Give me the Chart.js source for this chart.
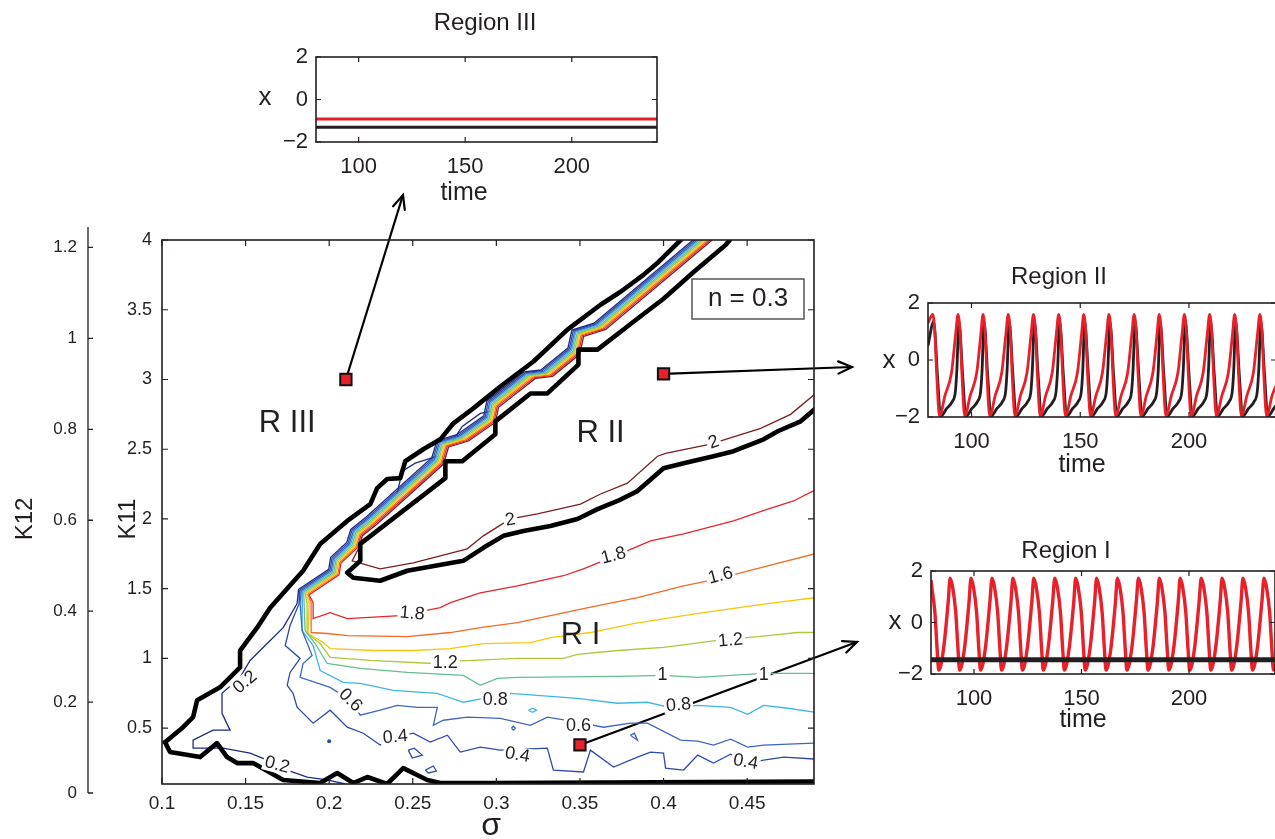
<!DOCTYPE html>
<html><head><meta charset="utf-8">
<script src="https://cdn.jsdelivr.net/npm/chart.js@4.4.1/dist/chart.umd.min.js"></script>
<style>
html,body{margin:0;padding:0;background:#fff;overflow:hidden;width:1275px;height:839px;position:relative;}
canvas{position:absolute;}
</style></head><body>
<canvas id="k12"></canvas>
<canvas id="main"></canvas>
<canvas id="r3"></canvas>
<canvas id="r2"></canvas>
<canvas id="r1"></canvas>
<script>
// ---------------- DATA ----------------
// main map: sigma (x), K11 (y)
const contourLevels = [0.2,0.4,0.6,0.8,1.0,1.2,1.4,1.6,1.8,2.0];
const contourColors = ['#1d2b85','#2d4aa8','#3d66c2','#3db5e6','#64be8e','#abc93b','#f8c50c','#f26a23','#e6262a','#7c1d1f'];
// shared path of the narrow rainbow band (sigma, K11) and each level's shift inside it
const bandPath = [[0.4269,4.029],[0.3623,3.379],[0.3491,3.329],[0.3467,3.2],[0.3305,3.043],[0.3204,3.029],[0.2982,2.821],[0.2964,2.714],[0.2802,2.579],[0.2683,2.536],[0.2653,2.414],[0.2257,1.986],[0.2168,1.9],[0.2144,1.807],[0.2048,1.7],[0.2036,1.614],[0.1856,1.471]];
const bandShiftSigma = [-0.0039,-0.0031,-0.0023,-0.0016,-0.0008,0,0.0008,0.0016,0.0023,0.0031];
const bandShiftK = [0.025,0.02,0.015,0.01,0.005,0,-0.005,-0.01,-0.015,-0.02];
// each level after leaving the band
const fan02 = [[0.1808,1.393],[0.1725,1.221],[0.1629,1.107],[0.1527,0.986],[0.1467,0.864],[0.1359,0.75],[0.1359,0.607],[0.1407,0.486],[0.1305,0.486],[0.1186,0.414],[0.1186,0.357],[0.1365,0.357],[0.1527,0.321],[0.1629,0.271],[0.1749,0.2],[0.1868,0.15],[0.1988,0.129],[0.2096,0.1]];
const fan04 = [[0.182,1.393],[0.1766,1.236],[0.1737,1.093],[0.1826,1.0],[0.1766,0.9],[0.1749,0.807],[0.1784,0.75],[0.1808,0.65],[0.1904,0.536],[0.2006,0.629],[0.2108,0.507],[0.2204,0.464],[0.2305,0.379],[0.2395,0.436],[0.2503,0.464],[0.2605,0.4],[0.2707,0.45],[0.2784,0.329],[0.2904,0.364],[0.3024,0.343],[0.3305,0.357],[0.3341,0.2],[0.3521,0.186],[0.3563,0.343],[0.3701,0.221],[0.3844,0.293],[0.3922,0.329],[0.4,0.321],[0.4012,0.214],[0.412,0.2],[0.4204,0.307],[0.4299,0.25],[0.4401,0.314],[0.4503,0.25],[0.4599,0.271],[0.4719,0.293],[0.4904,0.279]];
const fan06 = [[0.1826,1.393],[0.1838,1.2],[0.1898,1.021],[0.1844,0.964],[0.1826,0.864],[0.2006,0.793],[0.2126,0.7],[0.2186,0.593],[0.2305,0.629],[0.2407,0.664],[0.2527,0.65],[0.2647,0.65],[0.2623,0.521],[0.2683,0.557],[0.2826,0.579],[0.3024,0.571],[0.3204,0.521],[0.3305,0.579],[0.3485,0.543],[0.3641,0.507],[0.3802,0.536],[0.3904,0.536],[0.4102,0.414],[0.4204,0.407],[0.4299,0.379],[0.4401,0.421],[0.4503,0.364],[0.4599,0.379],[0.4904,0.393]];
const fan08 = [[0.1838,1.393],[0.1838,1.2],[0.1904,1.093],[0.1946,0.914],[0.2084,0.829],[0.2186,0.821],[0.2383,0.771],[0.2647,0.75],[0.2802,0.686],[0.2922,0.714],[0.3084,0.75],[0.3485,0.714],[0.3725,0.679],[0.3904,0.686],[0.406,0.643],[0.4204,0.664],[0.4401,0.65],[0.4503,0.6],[0.4599,0.664],[0.4743,0.643],[0.4904,0.614]];
const fan10 = [[0.185,1.393],[0.1856,1.2],[0.1916,1.107],[0.1988,0.964],[0.2186,0.929],[0.2467,0.9],[0.2802,0.879],[0.2904,0.807],[0.3006,0.857],[0.3126,0.864],[0.3725,0.871],[0.4,0.879],[0.4204,0.864],[0.4401,0.879],[0.4599,0.893],[0.4904,0.893]];
const fan12 = [[0.1868,1.393],[0.1868,1.179],[0.1946,1.107],[0.2006,1.007],[0.2246,0.986],[0.2623,0.964],[0.2725,0.979],[0.3126,1.0],[0.3401,1.0],[0.3485,1.029],[0.3725,1.057],[0.4,1.079],[0.4323,1.129],[0.4623,1.164],[0.4802,1.186],[0.4904,1.186]];
const fan14 = [[0.188,1.393],[0.1874,1.179],[0.1964,1.114],[0.2006,1.071],[0.2263,1.057],[0.2503,1.057],[0.2725,1.071],[0.2922,1.107],[0.3204,1.114],[0.3323,1.15],[0.3563,1.186],[0.382,1.25],[0.412,1.307],[0.4323,1.343],[0.4623,1.393],[0.4904,1.436]];
const fan16 = [[0.1892,1.4],[0.1892,1.186],[0.1988,1.179],[0.2108,1.164],[0.2467,1.157],[0.2725,1.186],[0.2904,1.221],[0.3126,1.257],[0.3521,1.357],[0.3844,1.436],[0.412,1.521],[0.4323,1.571],[0.4623,1.664],[0.4904,1.75]];
const fan18 = [[0.1904,1.4],[0.1904,1.286],[0.2006,1.329],[0.2108,1.286],[0.2425,1.307],[0.2665,1.364],[0.2725,1.4],[0.2904,1.471],[0.3126,1.521],[0.3401,1.593],[0.3521,1.643],[0.3683,1.721],[0.3922,1.843],[0.412,1.893],[0.4419,1.986],[0.4623,2.071],[0.4778,2.129],[0.4904,2.207]];
const fan20 = [[0.2138,1.70],[0.2305,1.643],[0.2503,1.686],[0.2665,1.736],[0.2826,1.786],[0.2922,1.879],[0.3084,2.0],[0.3246,2.036],[0.3503,2.107],[0.3623,2.179],[0.3784,2.257],[0.3964,2.45],[0.4012,2.471],[0.4281,2.536],[0.4581,2.65],[0.476,2.75],[0.4904,2.893]];
// small closed contours / excursions (level index, points)
const smallLoops = [
  [1,[[0.2473,0.343],[0.2509,0.357],[0.2557,0.307],[0.2497,0.286],[0.2473,0.343]]],
  [1,[[0.2575,0.2],[0.2623,0.229],[0.2641,0.193],[0.2593,0.179],[0.2575,0.2]]],
  [3,[[0.3192,0.629],[0.3216,0.643],[0.324,0.629],[0.3216,0.614],[0.3192,0.629]]],
  [2,[[0.309,0.5],[0.3102,0.514],[0.3114,0.5],[0.3102,0.486],[0.309,0.5]]],
  [2,[[0.3802,0.45],[0.3826,0.464],[0.3844,0.414],[0.3802,0.45]]],
  [0,[[0.2407,2.186],[0.2437,2.343],[0.2515,2.4],[0.2647,2.45]]],
  [0,[[0.2737,2.557],[0.2796,2.664],[0.2904,2.757],[0.2964,2.771]]]
];
const isolatedDot = [[0.2,0.407]];
// thick black region boundaries
const boundaryUpper = [[0.1018,0.4],[0.1126,0.507],[0.1186,0.579],[0.121,0.7],[0.1347,0.793],[0.1467,0.936],[0.1467,1.057],[0.1569,1.221],[0.1647,1.364],[0.1844,1.629],[0.1946,1.821],[0.2108,1.986],[0.2246,2.107],[0.2287,2.221],[0.2347,2.286],[0.2425,2.293],[0.2455,2.414],[0.2563,2.5],[0.2665,2.571],[0.2743,2.686],[0.2862,2.793],[0.3024,2.95],[0.3222,3.129],[0.3425,3.357],[0.3623,3.536],[0.3743,3.629],[0.388,3.75],[0.397,3.843],[0.412,4.02]];
const boundaryLower = [[0.1018,0.4],[0.1048,0.329],[0.1228,0.293],[0.1329,0.393],[0.1389,0.293],[0.1449,0.25],[0.1545,0.25],[0.1725,0.129],[0.1946,0.107],[0.2048,0.179],[0.2144,0.107],[0.2228,0.15],[0.2347,0.1],[0.2443,0.214],[0.2587,0.129],[0.2665,0.107],[0.2964,0.107],[0.4904,0.118]];
const boundaryWedge = [[0.4401,4.007],[0.4371,3.964],[0.418,3.771],[0.4,3.579],[0.382,3.414],[0.3605,3.214],[0.3491,3.214],[0.3491,3.107],[0.3305,2.9],[0.3204,2.9],[0.2994,2.7],[0.2994,2.607],[0.2796,2.414],[0.2695,2.414],[0.2695,2.293],[0.2186,1.821],[0.2186,1.7],[0.2108,1.614],[0.2144,1.579],[0.2305,1.557],[0.2467,1.629],[0.2802,1.7],[0.2922,1.793],[0.3042,1.879],[0.3162,1.914],[0.3323,1.95],[0.3485,2.0],[0.3605,2.071],[0.3725,2.129],[0.3844,2.2],[0.4,2.364],[0.412,2.4],[0.4299,2.45],[0.4419,2.486],[0.4599,2.571],[0.4683,2.629],[0.482,2.7],[0.4904,2.786]];
// sample points (sigma, K11)
const markerPts = [[0.21,3.0],[0.4,3.04],[0.35,0.38]];
// contour labels
const labelText  = ['0.2','0.2','0.6','0.4','1.8','1.2','0.8','2','1.8','1.6','1.2','1','1','0.8','0.6','0.4','0.4','2'];
const labelSigma = [0.1497,0.1689,0.2126,0.2395,0.2497,0.2695,0.2994,0.3084,0.3701,0.4341,0.4401,0.3994,0.4599,0.409,0.3491,0.3126,0.4491,0.43];
const labelK11   = [0.829,0.236,0.7,0.436,1.321,0.964,0.7,1.993,1.736,1.593,1.129,0.879,0.879,0.664,0.514,0.307,0.257,2.55];
const labelAngle = [-40,15,45,-5,5,0,0,-10,-15,-15,-5,0,0,-5,0,10,10,-20];
const regionText  = ['R III','R II','R I'];
const regionSigma = [0.1749,0.3623,0.3503];
const regionK11   = [2.686,2.614,1.164];

// inset time series (time, x)
const r3Red   = [[80,-0.92],[240,-0.92]];
const r3Black = [[80,-1.3],[240,-1.3]];
const r2Red = [[80,1.3],
[82.2,1.6],[83.2,0.9],[84.0,-0.5],[85.3,-1.97],[87.8,-1.25],[90.8,-0.45],[92.7,0.9],
[93.8,1.6],[94.8,0.9],[95.6,-0.5],[96.9,-1.97],[99.4,-1.25],[102.4,-0.45],[104.3,0.9],
[105.3,1.6],[106.3,0.9],[107.1,-0.5],[108.4,-1.97],[110.9,-1.25],[113.9,-0.45],[115.8,0.9],
[116.9,1.6],[117.9,0.9],[118.7,-0.5],[120.0,-1.97],[122.5,-1.25],[125.5,-0.45],[127.4,0.9],
[128.5,1.6],[129.5,0.9],[130.3,-0.5],[131.6,-1.97],[134.1,-1.25],[137.1,-0.45],[139.0,0.9],
[140.1,1.6],[141.1,0.9],[141.9,-0.5],[143.2,-1.97],[145.7,-1.25],[148.7,-0.45],[150.6,0.9],
[151.6,1.6],[152.6,0.9],[153.4,-0.5],[154.7,-1.97],[157.2,-1.25],[160.2,-0.45],[162.1,0.9],
[163.2,1.6],[164.2,0.9],[165.0,-0.5],[166.3,-1.97],[168.8,-1.25],[171.8,-0.45],[173.7,0.9],
[174.8,1.6],[175.8,0.9],[176.6,-0.5],[177.9,-1.97],[180.4,-1.25],[183.4,-0.45],[185.3,0.9],
[186.3,1.6],[187.3,0.9],[188.1,-0.5],[189.4,-1.97],[191.9,-1.25],[194.9,-0.45],[196.8,0.9],
[197.9,1.6],[198.9,0.9],[199.7,-0.5],[201.0,-1.97],[203.5,-1.25],[206.5,-0.45],[208.4,0.9],
[209.5,1.6],[210.5,0.9],[211.3,-0.5],[212.6,-1.97],[215.1,-1.25],[218.1,-0.45],[220.0,0.9],
[221.0,1.6],[222.0,0.9],[222.8,-0.5],[224.1,-1.97],[226.6,-1.25],[229.6,-0.45],[231.5,0.9],
[232.6,1.6],[233.6,0.9],[234.4,-0.5],[235.7,-1.97],[238.2,-1.25],[240,-0.9]];
const r2Black = [[80,0.5],
[82.6,1.35],[84.4,-0.6],[85.8,-1.98],[88.6,-1.7],[91.2,-1.45],[92.6,-1.1],[93.3,-0.3],
[94.2,1.35],[96.0,-0.6],[97.4,-1.98],[100.2,-1.7],[102.8,-1.45],[104.2,-1.1],[104.9,-0.3],
[105.7,1.35],[107.5,-0.6],[108.9,-1.98],[111.7,-1.7],[114.3,-1.45],[115.7,-1.1],[116.4,-0.3],
[117.3,1.35],[119.1,-0.6],[120.5,-1.98],[123.3,-1.7],[125.9,-1.45],[127.3,-1.1],[128.0,-0.3],
[128.9,1.35],[130.7,-0.6],[132.1,-1.98],[134.9,-1.7],[137.5,-1.45],[138.9,-1.1],[139.6,-0.3],
[140.5,1.35],[142.3,-0.6],[143.7,-1.98],[146.5,-1.7],[149.1,-1.45],[150.5,-1.1],[151.2,-0.3],
[152.0,1.35],[153.8,-0.6],[155.2,-1.98],[158.0,-1.7],[160.6,-1.45],[162.0,-1.1],[162.7,-0.3],
[163.6,1.35],[165.4,-0.6],[166.8,-1.98],[169.6,-1.7],[172.2,-1.45],[173.6,-1.1],[174.3,-0.3],
[175.2,1.35],[177.0,-0.6],[178.4,-1.98],[181.2,-1.7],[183.8,-1.45],[185.2,-1.1],[185.9,-0.3],
[186.7,1.35],[188.5,-0.6],[189.9,-1.98],[192.7,-1.7],[195.3,-1.45],[196.7,-1.1],[197.4,-0.3],
[198.3,1.35],[200.1,-0.6],[201.5,-1.98],[204.3,-1.7],[206.9,-1.45],[208.3,-1.1],[209.0,-0.3],
[209.9,1.35],[211.7,-0.6],[213.1,-1.98],[215.9,-1.7],[218.5,-1.45],[219.9,-1.1],[220.6,-0.3],
[221.4,1.35],[223.2,-0.6],[224.6,-1.98],[227.4,-1.7],[230.0,-1.45],[231.4,-1.1],[232.1,-0.3],
[233.0,1.35],[234.8,-0.6],[236.2,-1.98],[239.0,-1.7],[240,-1.6]];
const r1Red = [[80,1.65],[80.4,1.35],[81.8,0.4],[82.9,-1.1],[83.6,-1.85],[85.8,-1.05],[88.0,0.8],
[88.9,1.72],[90.1,1.35],[91.5,0.4],[92.6,-1.1],[93.3,-1.85],[95.5,-1.05],[97.7,0.8],
[98.6,1.72],[99.8,1.35],[101.2,0.4],[102.3,-1.1],[103.0,-1.85],[105.2,-1.05],[107.4,0.8],
[108.4,1.72],[109.6,1.35],[111.0,0.4],[112.1,-1.1],[112.8,-1.85],[115.0,-1.05],[117.2,0.8],
[118.1,1.72],[119.3,1.35],[120.7,0.4],[121.8,-1.1],[122.5,-1.85],[124.7,-1.05],[126.9,0.8],
[127.8,1.72],[129.0,1.35],[130.4,0.4],[131.5,-1.1],[132.2,-1.85],[134.4,-1.05],[136.6,0.8],
[137.6,1.72],[138.8,1.35],[140.2,0.4],[141.3,-1.1],[142.0,-1.85],[144.2,-1.05],[146.4,0.8],
[147.3,1.72],[148.5,1.35],[149.9,0.4],[151.0,-1.1],[151.7,-1.85],[153.9,-1.05],[156.1,0.8],
[157.0,1.72],[158.2,1.35],[159.6,0.4],[160.7,-1.1],[161.4,-1.85],[163.6,-1.05],[165.8,0.8],
[166.7,1.72],[167.9,1.35],[169.3,0.4],[170.4,-1.1],[171.1,-1.85],[173.3,-1.05],[175.5,0.8],
[176.5,1.72],[177.7,1.35],[179.1,0.4],[180.2,-1.1],[180.9,-1.85],[183.1,-1.05],[185.3,0.8],
[186.2,1.72],[187.4,1.35],[188.8,0.4],[189.9,-1.1],[190.6,-1.85],[192.8,-1.05],[195.0,0.8],
[195.9,1.72],[197.1,1.35],[198.5,0.4],[199.6,-1.1],[200.3,-1.85],[202.5,-1.05],[204.7,0.8],
[205.7,1.72],[206.9,1.35],[208.3,0.4],[209.4,-1.1],[210.1,-1.85],[212.3,-1.05],[214.5,0.8],
[215.4,1.72],[216.6,1.35],[218.0,0.4],[219.1,-1.1],[219.8,-1.85],[222.0,-1.05],[224.2,0.8],
[225.1,1.72],[226.3,1.35],[227.7,0.4],[228.8,-1.1],[229.5,-1.85],[231.7,-1.05],[233.9,0.8],
[234.9,1.72],[236.1,1.35],[237.5,0.4],[238.6,-1.1],[239.3,-1.85],[240,-1.6]];
const r1Black = [[80,-1.45],[240,-1.45]];

// ---------------- RENDER ----------------
const FF = "'Liberation Sans', Arial, Helvetica, sans-serif";
Chart.defaults.font.family = FF;
Chart.defaults.color = '#231f20';
Chart.defaults.animation = false;
const INK = '#231f20';
const toXY = a => a.map(p => ({x: p[0], y: p[1]}));
const plainFmt = v => String(parseFloat(Number(v).toFixed(4))).replace('-', '\u2212');

function setupCanvas(id, x, y, w, h) {
  const c = document.getElementById(id);
  c.width = w; c.height = h;
  c.style.left = x + 'px'; c.style.top = y + 'px';
  c.style.width = w + 'px'; c.style.height = h + 'px';
  return c;
}
function text(ctx, t, x, y, size, rot, align) {
  ctx.save();
  ctx.translate(x, y);
  if (rot) ctx.rotate(rot * Math.PI / 180);
  ctx.font = size + 'px ' + FF;
  ctx.fillStyle = INK;
  ctx.textAlign = align || 'center';
  ctx.textBaseline = 'middle';
  ctx.fillText(t, 0, 0);
  ctx.restore();
}
function frameTicks(len, lw) {
  return {
    id: 'frameTicks',
    afterDatasetsDraw(chart) {
      const {ctx, chartArea: a, scales} = chart;
      ctx.save();
      ctx.strokeStyle = INK;
      ctx.lineWidth = lw;
      ctx.strokeRect(a.left, a.top, a.right - a.left, a.bottom - a.top);
      ctx.lineWidth = 1.2;
      ctx.beginPath();
      scales.x.ticks.forEach(t => {
        const p = scales.x.getPixelForValue(t.value);
        ctx.moveTo(p, a.bottom); ctx.lineTo(p, a.bottom - len);
        ctx.moveTo(p, a.top); ctx.lineTo(p, a.top + len);
      });
      scales.y.ticks.forEach(t => {
        const p = scales.y.getPixelForValue(t.value);
        ctx.moveTo(a.left, p); ctx.lineTo(a.left + len, p);
        ctx.moveTo(a.right, p); ctx.lineTo(a.right - len, p);
      });
      ctx.stroke();
      ctx.restore();
    }
  };
}
function arrow(ctx, x0, y0, x1, y1) {
  ctx.beginPath(); ctx.moveTo(x0, y0); ctx.lineTo(x1, y1); ctx.stroke();
  const ang = Math.atan2(y1 - y0, x1 - x0), L = 15, sp = 0.42;
  ctx.beginPath();
  ctx.moveTo(x1 - L * Math.cos(ang - sp), y1 - L * Math.sin(ang - sp));
  ctx.lineTo(x1, y1);
  ctx.lineTo(x1 - L * Math.cos(ang + sp), y1 - L * Math.sin(ang + sp));
  ctx.stroke();
}

// ---- K12 outer axis ----
(function () {
  const c = setupCanvas('k12', 0, 0, 120, 839);
  new Chart(c, {
    type: 'scatter',
    data: {datasets: [{data: []}]},
    options: {
      responsive: false, animation: false, events: [],
      layout: {padding: {left: 0, top: 227, right: 22, bottom: 46}},
      plugins: {legend: {display: false}, tooltip: {enabled: false}},
      scales: {
        x: {type: 'linear', display: false, min: 0, max: 1},
        y: {type: 'linear', min: 0, max: 1.245,
            afterFit: s => { s.width = 88; },
            grid: {display: false, drawTicks: false}, border: {display: false},
            ticks: {stepSize: 0.2, includeBounds: false, padding: 11, font: {size: 17}, color: INK,
                    callback: plainFmt}}
      }
    },
    plugins: [{
      id: 'k12axis',
      afterDraw(chart) {
        const {ctx, chartArea: a, scales: {y}} = chart;
        ctx.save();
        ctx.strokeStyle = INK; ctx.lineWidth = 1.3;
        ctx.beginPath();
        ctx.moveTo(a.left, a.top); ctx.lineTo(a.left, a.bottom);
        y.ticks.forEach(t => { const p = y.getPixelForValue(t.value); ctx.moveTo(a.left, p); ctx.lineTo(a.left + 5, p); });
        ctx.stroke();
        ctx.restore();
        text(ctx, 'K12', 25, 519, 24, -90);
      }
    }]
  });
})();

// ---- main map ----
(function () {
  const c = setupCanvas('main', 0, 0, 1275, 839);
  const fans = [fan02, fan04, fan06, fan08, fan10, fan12, fan14, fan16, fan18, fan20];
  const ds = [];
  ds.push({data: toXY(markerPts), showLine: false, pointStyle: 'rect', pointRadius: 8,
           pointBackgroundColor: '#e8202a', pointBorderColor: '#111', pointBorderWidth: 2, order: 0});
  [boundaryUpper, boundaryLower, boundaryWedge].forEach(b => ds.push({
    data: toXY(b), showLine: true, borderColor: '#000', borderWidth: 4.6, pointRadius: 0,
    tension: 0, borderJoinStyle: 'round', borderCapStyle: 'round', order: 1}));
  contourLevels.forEach((lv, i) => {
    const band = (i === 9 ? bandPath.slice(0, 14) : bandPath)
      .map(p => [p[0] + bandShiftSigma[i], p[1] + bandShiftK[i]]);
    ds.push({data: toXY(band.concat(fans[i])), showLine: true, borderColor: contourColors[i],
             borderWidth: 1.3, pointRadius: 0, tension: 0, order: 2});
  });
  smallLoops.forEach(l => ds.push({data: toXY(l[1]), showLine: true, borderColor: contourColors[l[0]],
             borderWidth: 1.3, pointRadius: 0, tension: 0, order: 2}));
  ds.push({data: toXY(isolatedDot), showLine: false, pointRadius: 2, pointBackgroundColor: contourColors[1],
           pointBorderWidth: 0, order: 2});

  new Chart(c, {
    type: 'scatter',
    data: {datasets: ds},
    options: {
      responsive: false, animation: false, events: [],
      layout: {padding: {left: 110, top: 240, right: 461, bottom: 0}},
      plugins: {legend: {display: false}, tooltip: {enabled: false}},
      scales: {
        x: {type: 'linear', min: 0.1, max: 0.49,
            afterFit: s => { s.height = 55; },
            grid: {display: false, drawTicks: false}, border: {display: false},
            ticks: {stepSize: 0.05, includeBounds: false, padding: 8, font: {size: 19}, color: INK,
                    maxRotation: 0, autoSkip: false, callback: plainFmt}},
        y: {type: 'linear', min: 0.1, max: 4,
            afterFit: s => { s.width = 52; },
            grid: {display: false, drawTicks: false}, border: {display: false},
            ticks: {stepSize: 0.5, includeBounds: false, padding: 10, font: {size: 18}, color: INK,
                    callback: plainFmt}}
      }
    },
    plugins: [frameTicks(6, 1.6), {
      id: 'mainExtras',
      beforeDatasetsDraw(chart) {
        const {ctx, scales: {x, y}} = chart;
        const ends = [[403, 195], [852, 367], [857, 642]];
        ctx.save();
        ctx.strokeStyle = '#000'; ctx.lineWidth = 2.2; ctx.lineCap = 'round';
        markerPts.forEach((m, i) => arrow(ctx, x.getPixelForValue(m[0]), y.getPixelForValue(m[1]), ends[i][0], ends[i][1]));
        ctx.restore();
      },
      afterDatasetsDraw(chart) {
        const {ctx, chartArea: a, scales: {x, y}} = chart;
        labelText.forEach((t, i) => {
          const px = x.getPixelForValue(labelSigma[i]), py = y.getPixelForValue(labelK11[i]);
          ctx.save();
          ctx.translate(px, py);
          ctx.rotate(labelAngle[i] * Math.PI / 180);
          ctx.font = '18px ' + FF;
          const w = ctx.measureText(t).width;
          ctx.fillStyle = '#fff';
          ctx.fillRect(-w / 2 - 2, -8, w + 4, 16);
          ctx.restore();
          text(ctx, t, px, py, 18, labelAngle[i]);
        });
        regionText.forEach((t, i) => text(ctx, t, x.getPixelForValue(regionSigma[i]), y.getPixelForValue(regionK11[i]), 31, 0));
        ctx.save();
        ctx.fillStyle = '#fff';
        ctx.strokeStyle = '#555'; ctx.lineWidth = 1.5;
        ctx.fillRect(a.right - 122, a.top + 39, 112, 40);
        ctx.strokeRect(a.right - 122, a.top + 39, 112, 40);
        ctx.restore();
        text(ctx, 'n = 0.3', a.right - 66, a.top + 59, 26, 0);
      },
      afterDraw(chart) {
        const {ctx, chartArea: a} = chart;
        text(ctx, 'K11', a.left - 34, (a.top + a.bottom) / 2 + 7, 24, -90);
        text(ctx, '\u03c3', (a.left + a.right) / 2 + 3, a.bottom + 42, 32, 0);
      }
    }]
  });
})();

// ---- insets ----
function makeInset(id, box, area, series, labels) {
  const c = setupCanvas(id, box.x, box.y, box.w, box.h);
  new Chart(c, {
    type: 'scatter',
    data: {datasets: series.map(s => ({data: toXY(s.data), showLine: true, borderColor: s.color,
          borderWidth: s.width, pointRadius: 0, cubicInterpolationMode: 'monotone', order: s.order,
          borderJoinStyle: 'round'}))},
    options: {
      responsive: false, animation: false, events: [],
      layout: {padding: {left: 0, top: area.top, right: box.w - area.right, bottom: 0}},
      plugins: {legend: {display: false}, tooltip: {enabled: false}},
      scales: {
        x: {type: 'linear', min: 80, max: 240,
            afterFit: s => { s.height = box.h - area.bottom; },
            grid: {display: false, drawTicks: false}, border: {display: false},
            ticks: {stepSize: 50, includeBounds: false, padding: 12, font: {size: 22}, color: INK,
                    maxRotation: 0, autoSkip: false, callback: plainFmt}},
        y: {type: 'linear', min: -2, max: 2,
            afterFit: s => { s.width = area.left; },
            grid: {display: false, drawTicks: false}, border: {display: false},
            ticks: {stepSize: 2, includeBounds: false, padding: 8, font: {size: 22}, color: INK,
                    callback: plainFmt}}
      }
    },
    plugins: [frameTicks(5, 1.6), {
      id: 'insetText',
      afterDraw(chart) {
        const {ctx, chartArea: a} = chart;
        text(ctx, labels.title, a.left + labels.t[0], a.top + labels.t[1], 24, 0);
        text(ctx, 'x', a.left + labels.x[0], a.top + labels.x[1], 26, 0);
        text(ctx, 'time', a.left + labels.m[0], a.top + labels.m[1], 25, 0);
      }
    }]
  });
}
makeInset('r3', {x: 230, y: 0, w: 460, h: 215}, {left: 86, top: 57, right: 427, bottom: 142},
  [{data: r3Red, color: '#e8202a', width: 3, order: 0}, {data: r3Black, color: '#231f20', width: 3, order: 1}],
  {title: 'Region III', t: [169, -34], x: [-51, 41], m: [148, 136]});
makeInset('r2', {x: 860, y: 255, w: 430, h: 230}, {left: 68, top: 48, right: 416, bottom: 162},
  [{data: r2Red, color: '#e8202a', width: 2.8, order: 0}, {data: r2Black, color: '#231f20', width: 2.8, order: 1}],
  {title: 'Region II', t: [131, -26], x: [-39, 58], m: [154, 162]});
makeInset('r1', {x: 860, y: 525, w: 430, h: 230}, {left: 71, top: 46, right: 415, bottom: 149},
  [{data: r1Red, color: '#e8202a', width: 3.4, order: 1}, {data: r1Black, color: '#231f20', width: 5, order: 0}],
  {title: 'Region I', t: [135, -20], x: [-36, 51], m: [152, 149]});
</script>
</body></html>
